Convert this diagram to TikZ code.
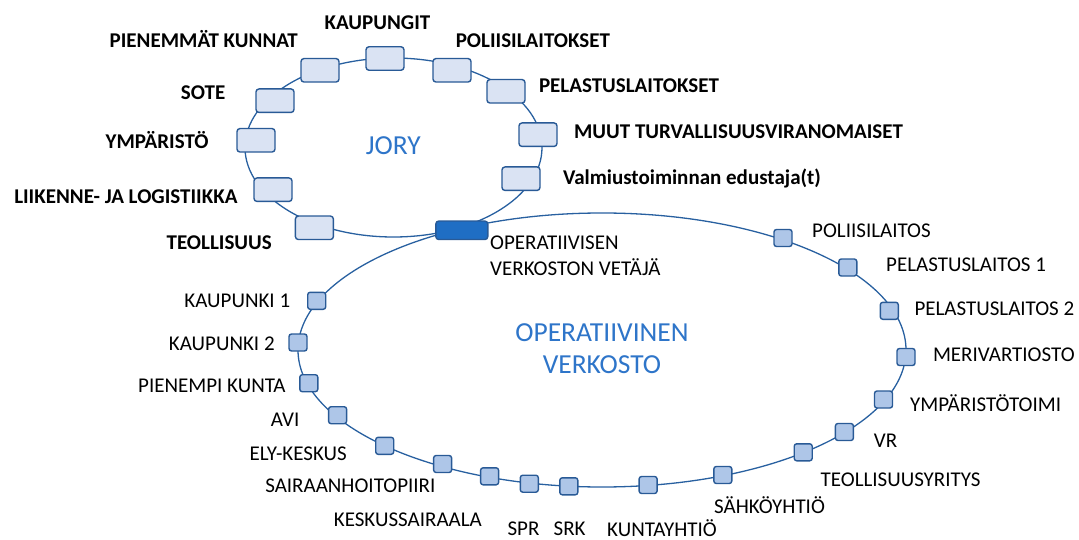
\documentclass[tikz,border=0pt]{standalone}
\usepackage{fontspec}
\setmainfont{Carlito}
\usetikzlibrary{positioning}
\definecolor{kaariblue}{RGB}{40,96,160}
\definecolor{reunablue}{RGB}{41,90,150}
\definecolor{jorysky}{RGB}{218,227,243}
\definecolor{verkkosky}{RGB}{174,198,232}
\definecolor{vetajablue}{RGB}{31,110,196}
\definecolor{otsikkoblue}{RGB}{46,117,201}
\tikzset{
  jasen/.style={
    rounded corners=3pt,
    draw=reunablue,
    line width=1.4pt,
    fill=jorysky,
    minimum width=38pt,
    minimum height=23.5pt,
    inner sep=0pt
  },
  toimija/.style={
    rounded corners=2.5pt,
    draw=reunablue,
    line width=1.4pt,
    fill=verkkosky,
    minimum width=18pt,
    minimum height=17pt,
    inner sep=0pt
  },
  vetaja/.style={
    rounded corners=3pt,
    draw=reunablue,
    line width=1.4pt,
    fill=vetajablue,
    minimum width=52pt,
    minimum height=18.5pt,
    inner sep=0pt
  },
  nimi/.style={
    inner sep=0pt,
    font=\fontsize{21}{25}\selectfont\bfseries
  },
  teksti/.style={
    inner sep=0pt,
    align=left,
    font=\fontsize{21}{27}\selectfont
  },
  otsikko/.style={
    inner sep=0pt,
    align=center,
    text=otsikkoblue,
    font=\fontsize{27.5}{31.6}\selectfont
  },
  kaari/.style={
    line width=1.3pt,
    draw=kaariblue
  }
}

\begin{document}
\begin{tikzpicture}[x=1pt,y=-1pt]
\useasboundingbox (0,0) rectangle (1079,540);
\coordinate (jc) at (393.5,147.5);
\coordinate (oc) at (602,350);
\draw[kaari] (jc) ellipse [x radius=148.5, y radius=89.5];
\draw[kaari] (oc) ellipse [x radius=304, y radius=137];

\node[jasen] (kaup) at (385,58.5) {};
\node[jasen] (pien) at (320,70.3) {};
\node[jasen] (poli) at (452,70.3) {};
\node[jasen] (pela) at (506,91.3) {};
\node[jasen] (sote) at (275,100.7) {};
\node[jasen] (ymp) at (256,140.3) {};
\node[jasen] (muut) at (538,134.7) {};
\node[jasen] (valm) at (521,178.7) {};
\node[jasen] (liik) at (273,189.7) {};
\node[jasen] (teol) at (314.4,227.8) {};
\node[vetaja] (veto) at (461.8,230.3) {};

\node[toimija] (o1) at (783,238) {};
\node[toimija] (o2) at (847.8,267.5) {};
\node[toimija] (o3) at (889.3,310.8) {};
\node[toimija] (o4) at (906,357) {};
\node[toimija] (o5) at (883.5,399.5) {};
\node[toimija] (o6) at (844.4,432) {};
\node[toimija] (o7) at (803.2,452.3) {};
\node[toimija] (o8) at (722.8,475) {};
\node[toimija] (o9) at (648.1,485) {};
\node[toimija] (o10) at (568.8,486.3) {};
\node[toimija] (o11) at (529.3,483.7) {};
\node[toimija] (o12) at (489.6,476.3) {};
\node[toimija] (o13) at (442.6,464) {};
\node[toimija] (o14) at (384.7,445.8) {};
\node[toimija] (o15) at (337.6,415.2) {};
\node[toimija] (o16) at (308.8,383.2) {};
\node[toimija] (o17) at (298,342.5) {};
\node[toimija] (o18) at (316.7,300.8) {};

\node[otsikko, anchor=base] (jory) at (393.3,155) {JORY};
\node[otsikko, anchor=base] (verkko) at (602,373.3) {OPERATIIVINEN\\VERKOSTO};

\node[nimi, anchor=base east] (tpien) at (298,48) {PIENEMMÄT KUNNAT};
\node[nimi, anchor=base west] (tkaup) at (324.4,30) {KAUPUNGIT};
\node[nimi, anchor=base west] (tpoli) at (455.6,48) {POLIISILAITOKSET};
\node[nimi, anchor=base west] (tpela) at (538.8,92.7) {PELASTUSLAITOKSET};
\node[nimi, anchor=base east] (tsote) at (225.5,100) {SOTE};
\node[nimi, anchor=base east] (tymp) at (208.7,148.3) {YMPÄRISTÖ};
\node[nimi, anchor=base west] (tmuut) at (573.9,138.3) {MUUT TURVALLISUUSVIRANOMAISET};
\node[nimi, anchor=base west] (tvalm) at (562.8,184.5) {Valmiustoiminnan edustaja(t)};
\node[nimi, anchor=base east] (tliik) at (237.6,203.3) {LIIKENNE- JA LOGISTIIKKA};
\node[nimi, anchor=base east] (tteol) at (272,249.3) {TEOLLISUUS};

\node[teksti, anchor=base west] (tveto) at (490,276) {OPERATIIVISEN\\VERKOSTON VETÄJÄ};
\node[teksti, anchor=base west] (t1) at (812,237.3) {POLIISILAITOS};
\node[teksti, anchor=base west] (t2) at (886,271) {PELASTUSLAITOS 1};
\node[teksti, anchor=base west] (t3) at (914.3,315) {PELASTUSLAITOS 2};
\node[teksti, anchor=base west] (t4) at (932.8,361.7) {MERIVARTIOSTO};
\node[teksti, anchor=base west] (t5) at (910,411.7) {YMPÄRISTÖTOIMI};
\node[teksti, anchor=base west] (t6) at (873.7,447.3) {VR};
\node[teksti, anchor=base west] (t7) at (820.5,486) {TEOLLISUUSYRITYS};
\node[teksti, anchor=base west] (t8) at (714,513.3) {SÄHKÖYHTIÖ};
\node[teksti, anchor=base west] (t9) at (607,536.5) {KUNTAYHTIÖ};
\node[teksti, anchor=base west] (t10) at (553.5,535.5) {SRK};
\node[teksti, anchor=base west] (t11) at (507.4,535.2) {SPR};
\node[teksti, anchor=base east] (t12) at (482,526) {KESKUSSAIRAALA};
\node[teksti, anchor=base east] (t13) at (435.6,492.7) {SAIRAANHOITOPIIRI};
\node[teksti, anchor=base east] (t14) at (347,460) {ELY-KESKUS};
\node[teksti, anchor=base east] (t15) at (299.6,426.7) {AVI};
\node[teksti, anchor=base east] (t16) at (285.8,392.3) {PIENEMPI KUNTA};
\node[teksti, anchor=base east] (t17) at (274.8,350) {KAUPUNKI 2};
\node[teksti, anchor=base east] (t18) at (290.3,307.3) {KAUPUNKI 1};
\end{tikzpicture}
\end{document}
